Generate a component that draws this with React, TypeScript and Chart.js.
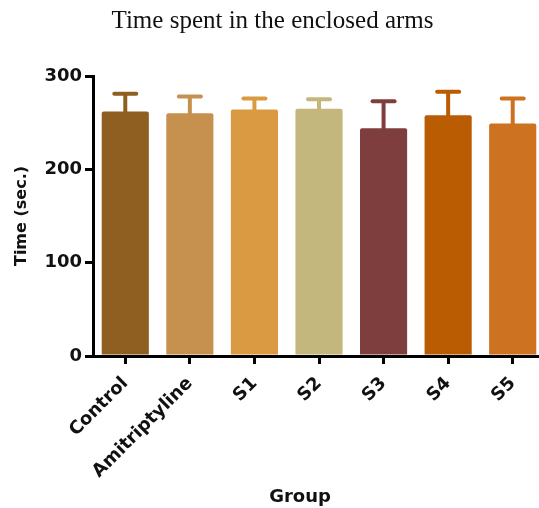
import React, { useEffect, useRef } from "react";
import { Chart, registerables } from "chart.js";

Chart.register(...registerables);

const groups = ["Control", "Amitriptyline", "S1", "S2", "S3", "S4", "S5"];
const meanTime = [262, 260, 264, 265, 244, 258, 249];
const errorTime = [19, 18, 12, 10, 29, 25, 27];
const barColors = ["#8F5F21", "#C6914F", "#D99A42", "#C3B77D", "#7F3E3E", "#BA5C02", "#CD7220"];
const yMin = 0;
const yMax = 300;
const yStep = 100;

const titleText = "Time spent in the enclosed arms";
const yTitleText = "Time (sec.)";
const xTitleText = "Group";

const sansBold = "'DejaVu Sans', 'Liberation Sans', Arial, sans-serif";
const serif = "'Liberation Serif', 'Times New Roman', serif";
const textColor = "#111111";

const errorBarPlugin = {
  id: "errorBars",
  afterDatasetsDraw(chart: any) {
    const ctx = chart.ctx;
    const meta = chart.getDatasetMeta(0);
    const y = chart.scales.y;
    meta.data.forEach((bar: any, i: number) => {
      const x = bar.x;
      const top = y.getPixelForValue(meanTime[i]);
      const end = y.getPixelForValue(meanTime[i] + errorTime[i]);
      ctx.save();
      ctx.strokeStyle = barColors[i];
      ctx.lineWidth = 4;
      ctx.lineCap = "butt";
      ctx.beginPath();
      ctx.moveTo(x, top + 1);
      ctx.lineTo(x, end);
      ctx.stroke();
      ctx.lineWidth = 4;
      ctx.lineCap = "round";
      ctx.beginPath();
      ctx.moveTo(x - 11, end);
      ctx.lineTo(x + 11, end);
      ctx.stroke();
      ctx.restore();
    });
  },
};

const groupTitlePlugin = {
  id: "groupTitle",
  afterDraw(chart: any) {
    const ctx = chart.ctx;
    ctx.save();
    ctx.fillStyle = textColor;
    ctx.font = `bold 18px ${sansBold}`;
    ctx.textAlign = "center";
    ctx.textBaseline = "middle";
    ctx.fillText(xTitleText, 300, 497);
    ctx.restore();
  },
};

export default function App() {
  const canvasRef = useRef<HTMLCanvasElement | null>(null);

  useEffect(() => {
    if (!canvasRef.current) return;
    const chart = new Chart(canvasRef.current, {
      type: "bar",
      data: {
        labels: groups,
        datasets: [
          {
            data: meanTime,
            backgroundColor: barColors,
            borderWidth: 0,
            borderRadius: 2,
            categoryPercentage: 1,
            barPercentage: 0.73,
          },
        ],
      },
      options: {
        responsive: false,
        animation: false,
        devicePixelRatio: 1,
        layout: { padding: 0 },
        plugins: {
          legend: { display: false },
          tooltip: { enabled: false },
          title: {
            display: true,
            text: titleText,
            color: textColor,
            font: { family: serif, size: 25, weight: "normal" },
            padding: { top: 6, bottom: 40 },
          },
        },
        scales: {
          x: {
            ticks: {
              color: textColor,
              font: { family: sansBold, size: 18, weight: "bold" },
              maxRotation: 45,
              minRotation: 45,
              padding: 9,
              autoSkip: false,
            },
            grid: {
              display: true,
              drawOnChartArea: false,
              drawTicks: true,
              tickLength: 8,
              lineWidth: 3,
              color: "#000",
              offset: false,
            },
            border: { display: true, width: 3, color: "#000" },
            afterFit(scale: any) {
              scale.height = 152;
            },
          },
          y: {
            min: yMin,
            max: yMax,
            ticks: {
              stepSize: yStep,
              color: textColor,
              font: { family: sansBold, size: 18, weight: "bold" },
              padding: 3,
            },
            grid: {
              display: true,
              drawOnChartArea: false,
              drawTicks: true,
              tickLength: 8,
              lineWidth: 3,
              color: "#000",
            },
            border: { display: true, width: 3, color: "#000" },
            title: {
              display: true,
              text: yTitleText,
              color: textColor,
              font: { family: sansBold, size: 16, weight: "bold" },
              padding: { top: 12, bottom: 0 },
            },
            afterFit(scale: any) {
              scale.width = 93;
            },
          },
        },
      },
      plugins: [errorBarPlugin, groupTitlePlugin],
    });
    return () => chart.destroy();
  }, []);

  return (
    <div
      style={{
        position: "absolute",
        left: 0,
        top: 0,
        width: 539,
        height: 508,
        overflow: "hidden",
        background: "#fff",
      }}
    >
      <canvas
        ref={canvasRef}
        width={545}
        height={508}
        style={{ display: "block", width: 545, height: 508 }}
      />
    </div>
  );
}
